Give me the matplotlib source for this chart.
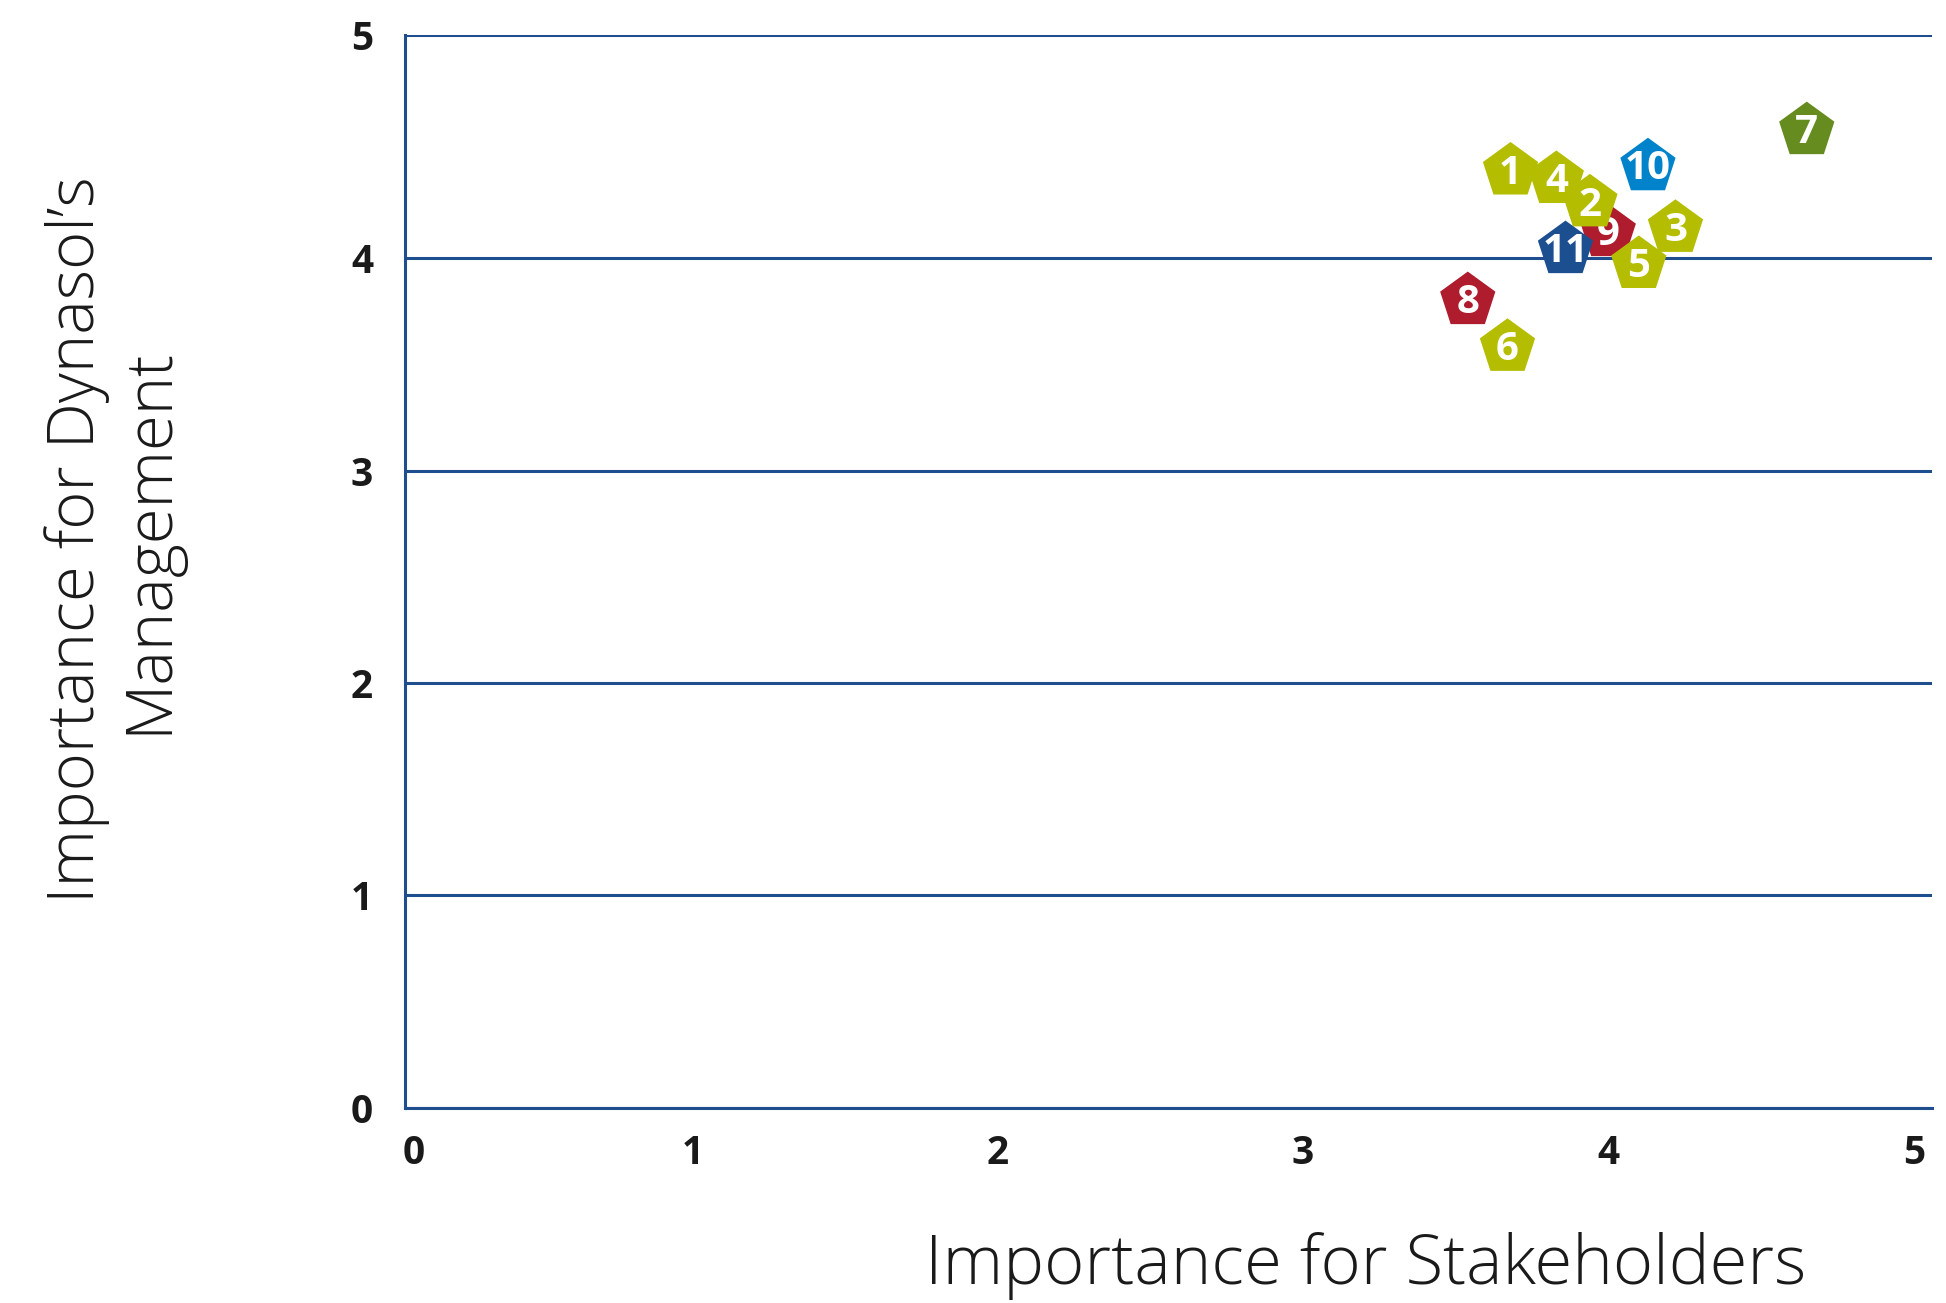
import matplotlib.pyplot as plt
import matplotlib.transforms as mtransforms
import numpy as np

# данные: номер темы, важность для стейкхолдеров (x), важность для руководства (y)
labels = ['1', '2', '3', '4', '5', '6', '7', '8', '9', '10', '11']
x_vals = [3.62, 3.88, 4.16, 3.77, 4.04, 3.61, 4.59, 3.48, 3.94, 4.07, 3.80]
y_vals = [4.41, 4.26, 4.14, 4.37, 3.97, 3.58, 4.60, 3.80, 4.12, 4.43, 4.04]
groups = ['lime', 'lime', 'lime', 'lime', 'lime', 'lime', 'green', 'red', 'red', 'blue', 'navy']

colors = {'lime': '#B4BD00', 'green': '#668C1F', 'red': '#AF1C2D',
          'blue': '#0083CA', 'navy': '#1B4F90'}
# порядок отрисовки (кто поверх кого)
draw_order = ['9', '1', '4', '2', '11', '3', '5', '6', '8', '10', '7']

y_top = 5.05  # верхняя линия чуть выше 5, как на исходнике
line_col = '#1F4E8F'

plt.rcParams['font.family'] = ['Open Sans', 'DejaVu Sans']

fig = plt.figure(figsize=(19.46, 13.03), dpi=100)
ax = fig.add_axes([0.2081, 0.1497, 0.7847, 0.8234])

for z, lab in enumerate(draw_order):
    i = labels.index(lab)
    ax.scatter(x_vals[i], y_vals[i], marker='p', s=1750, color=colors[groups[i]],
               edgecolors='none', zorder=3 + z * 0.1, clip_on=False)
    ax.text(x_vals[i], y_vals[i] - 0.01, lab, color='white', fontsize=29, fontweight='bold',
            ha='center', va='center', zorder=3 + z * 0.1 + 0.05)

ax.set_xlim(0, 5)
ax.set_ylim(0, y_top)
ax.set_xticks(range(6))
ax.set_yticks([0, 1, 2, 3, 4, y_top], labels=['0', '1', '2', '3', '4', '5'])
ax.tick_params(length=0, labelsize=28, colors='#1a1a1a')
ax.tick_params(axis='x', pad=19)
ax.tick_params(axis='y', pad=23)
for t in ax.get_xticklabels() + ax.get_yticklabels():
    t.set_fontweight('bold')

# подписи оси X на исходнике немного сдвинуты влево
for k, t in enumerate(ax.get_xticklabels()):
    dx = 6 if k == 0 else -13
    t.set_transform(t.get_transform() + mtransforms.ScaledTranslation(dx / 72, 0, fig.dpi_scale_trans))

ax.grid(axis='y', color=line_col, linewidth=2.2)
ax.set_axisbelow(True)
for s in ['top', 'right']:
    ax.spines[s].set_visible(False)
for s in ['left', 'bottom']:
    ax.spines[s].set_color(line_col)
    ax.spines[s].set_linewidth(2.2)

fig.text(1366 / 1946, 1 - 1284 / 1303, 'Importance for Stakeholders', fontsize=49.5,
         fontweight='light', ha='center', va='baseline', color='#1a1a1a')
fig.text(113 / 1946, 1 - 540 / 1303, 'Importance for Dynasol\u2019s\nManagement', fontsize=47,
         fontweight='light', ha='center', va='center', rotation=90, color='#1a1a1a',
         linespacing=1.15, multialignment='center')

plt.savefig('out.png', dpi=100)
